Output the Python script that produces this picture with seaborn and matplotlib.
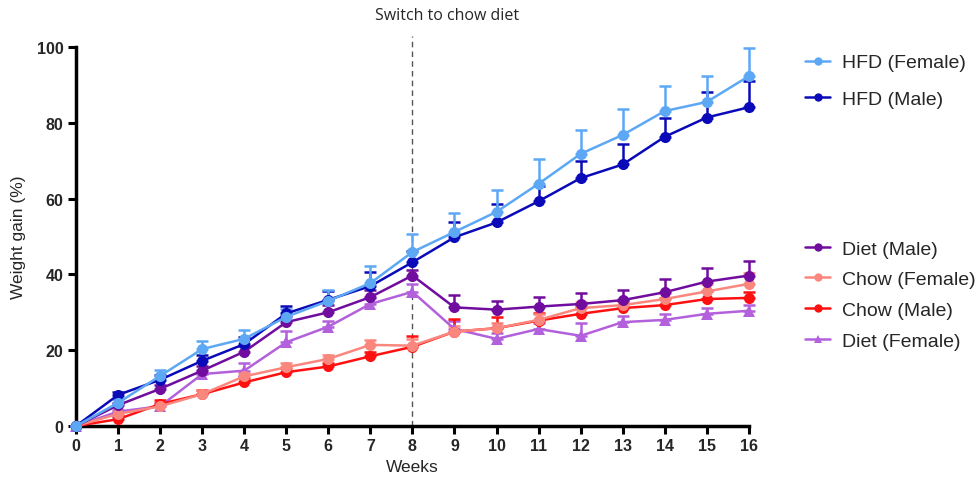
import numpy as np
import pandas as pd
import matplotlib
matplotlib.use("Agg")
import matplotlib.pyplot as plt
import seaborn as sns

weeks = list(range(17))

hfd_female = [0, 6.1, 13.2, 20.3, 23.0, 28.8, 33.0, 37.7, 45.9, 51.2, 56.5, 63.9, 71.8, 76.8, 83.1, 85.5, 92.3]
hfd_female_err = [0, 1.0, 1.6, 2.1, 2.3, 2.0, 3.0, 4.6, 4.8, 5.0, 5.8, 6.5, 6.3, 6.8, 6.7, 6.9, 7.4]
hfd_male = [0, 8.2, 12.2, 17.2, 21.6, 29.7, 33.3, 36.9, 43.2, 49.8, 53.7, 59.3, 65.4, 69.0, 76.3, 81.4, 84.1]
hfd_male_err = [0, 0.8, 1.2, 1.5, 1.8, 2.0, 2.2, 3.7, 3.0, 4.0, 4.9, 4.0, 4.5, 5.4, 5.0, 6.6, 6.9]
diet_male = [0, 5.5, 9.8, 14.6, 19.6, 27.4, 30.0, 34.0, 39.7, 31.3, 30.7, 31.5, 32.2, 33.2, 35.3, 38.1, 39.7]
diet_male_err = [0, 0.6, 1.0, 1.2, 1.5, 1.5, 1.8, 2.0, 1.5, 3.3, 2.4, 2.5, 2.9, 2.7, 3.5, 3.5, 3.8]
chow_female = [0, 3.2, 5.2, 8.4, 13.1, 15.5, 17.7, 21.4, 21.2, 24.9, 25.8, 28.0, 31.1, 31.9, 33.5, 35.5, 37.5]
chow_female_err = [0, 0.5, 0.8, 1.0, 1.0, 1.0, 1.0, 1.2, 1.8, 1.5, 1.5, 1.5, 1.5, 1.5, 1.5, 2.0, 3.0]
chow_male = [0, 1.8, 5.8, 8.4, 11.5, 14.2, 15.7, 18.4, 20.9, 24.9, 25.8, 27.8, 29.6, 31.1, 31.9, 33.5, 33.8]
chow_male_err = [0, 0.8, 1.0, 1.2, 1.2, 1.0, 1.0, 1.0, 2.9, 3.3, 3.0, 2.0, 2.0, 2.0, 2.0, 2.0, 1.5]
diet_female = [0, 3.8, 5.2, 13.7, 14.6, 22.1, 26.2, 32.2, 35.4, 25.6, 23.0, 25.6, 23.8, 27.4, 28.0, 29.6, 30.4]
diet_female_err = [0, 0.5, 0.8, 1.0, 2.0, 3.0, 1.5, 1.5, 2.0, 2.2, 1.5, 1.5, 3.4, 1.5, 1.5, 1.5, 1.5]

series = [
    ("HFD (Female)", hfd_female, hfd_female_err, "#5CA8F5", "o"),
    ("HFD (Male)", hfd_male, hfd_male_err, "#0A0AB8", "o"),
    ("Diet (Male)", diet_male, diet_male_err, "#700C9E", "o"),
    ("Chow (Female)", chow_female, chow_female_err, "#FA877E", "o"),
    ("Chow (Male)", chow_male, chow_male_err, "#FF1010", "o"),
    ("Diet (Female)", diet_female, diet_female_err, "#B360DC", "^"),
]

sns.set_style("ticks")
plt.rcParams['font.family'] = ['Liberation Sans', 'DejaVu Sans']

fig = plt.figure(figsize=(9.76, 4.85), dpi=100)
ax = fig.add_axes([0.0779, 0.1196, 0.6893, 0.7814])

handles = {}
draw_order = ["Diet (Female)", "Chow (Male)", "Chow (Female)", "Diet (Male)", "HFD (Male)", "HFD (Female)"]
lookup = {s[0]: s for s in series}
for name in draw_order:
    label, vals, err, color, marker = lookup[name]
    df = pd.DataFrame({"Weeks": weeks, "val": vals})
    ax.errorbar(weeks, vals, yerr=[np.zeros(len(err)), err], fmt="none",
                ecolor=color, elinewidth=1.8, capsize=4, capthick=1.8, clip_on=False, zorder=2)
    sns.lineplot(data=df, x="Weeks", y="val", ax=ax, color=color, marker=marker,
                 markersize=8 if marker == "o" else 8.5, markeredgewidth=0, linewidth=1.8,
                 clip_on=False, zorder=3, label=label, legend=False)
    handles[label] = ax.lines[-1]

ax.set_xlim(0, 16)
ax.set_ylim(0, 100)
ax.set_xticks(range(0, 17))
ax.set_yticks(range(0, 101, 20))
for s in ["top", "right"]:
    ax.spines[s].set_visible(False)
for s in ["left", "bottom"]:
    ax.spines[s].set_linewidth(2.5)
    ax.spines[s].set_color("black")
ax.tick_params(axis="both", direction="out", length=6, width=2.2, labelsize=11.5, color="black", pad=3)
for lbl in ax.get_xticklabels() + ax.get_yticklabels():
    lbl.set_fontweight("bold")
ax.set_xlabel("Weeks", fontsize=12.5, labelpad=4)
ax.set_ylabel("Weight gain (%)", fontsize=12.5, labelpad=8)

ax.plot([8, 8], [0, 103], linestyle=(0, (4, 3)), color="#555555", linewidth=1.0, clip_on=False, zorder=1)
fig.text(0.458, 0.968, "Switch to chow diet", fontsize=11.5, ha="center", va="center",
         family=["Open Sans", "DejaVu Sans"])

names1 = ["HFD (Female)", "HFD (Male)"]
names2 = ["Diet (Male)", "Chow (Female)", "Chow (Male)", "Diet (Female)"]
leg1 = fig.legend([handles[n] for n in names1], names1, loc="upper left",
                  bbox_to_anchor=(0.825, 0.887), frameon=False, fontsize=14,
                  handlelength=1.3, labelspacing=0.97, handletextpad=0.6,
                  borderaxespad=0, borderpad=0)
leg2 = fig.legend([handles[n] for n in names2], names2, loc="upper left",
                  bbox_to_anchor=(0.825, 0.503), frameon=False, fontsize=14,
                  handlelength=1.3, labelspacing=0.67, handletextpad=0.6,
                  borderaxespad=0, borderpad=0)
for leg in (leg1, leg2):
    for h in leg.legend_handles:
        h.set_markersize(6)

fig.savefig("out.png", dpi=100)
